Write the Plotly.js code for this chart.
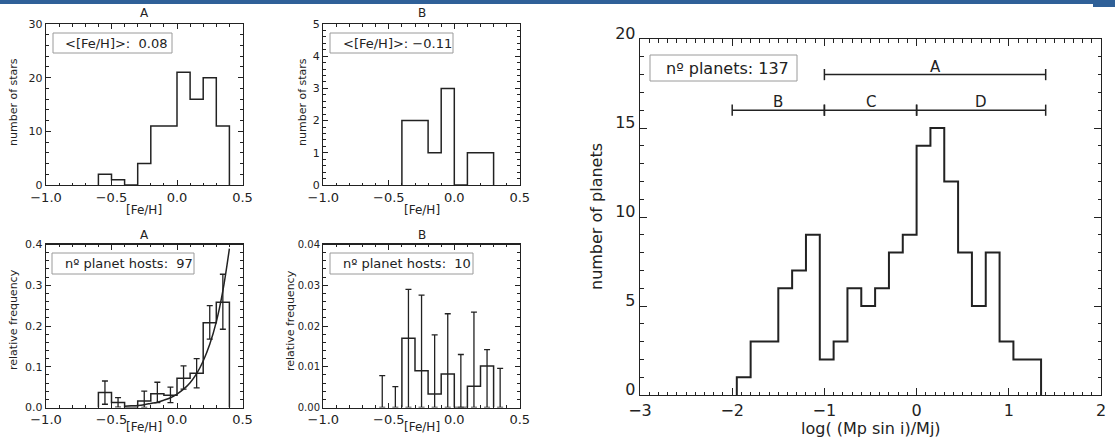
<!DOCTYPE html>
<html>
<head>
<meta charset="utf-8">
<script src="https://cdn.plot.ly/plotly-3.0.1.min.js"></script>
<style>html,body{margin:0;padding:0;background:#fff;}#chart{width:1115px;height:439px;}</style>
</head>
<body>
<div id="chart"></div>
<script>
// ---------------- data ----------------
// top row: [Fe/H] histograms (number of stars)
const fehEdgesA = [-0.6, -0.5, -0.4, -0.3, -0.2, -0.1, 0.0, 0.1, 0.2, 0.3, 0.4];
const starsA    = [2, 1, 0, 4, 11, 11, 21, 16, 20, 11];
const fehEdgesB = [-0.4, -0.3, -0.2, -0.1, 0.0, 0.1, 0.2, 0.3];
const starsB    = [2, 2, 1, 3, 0, 1, 1];
const meanFehA = "0.08";
const meanFehB = "\u22120.11";

// bottom row: relative frequency of planet hosts
const relFreqA     = [0.037, 0.012, 0, 0.016, 0.034, 0.030, 0.072, 0.084, 0.208, 0.258];
const errCentersA  = [-0.55, -0.45, -0.25, -0.15, -0.05, 0.05, 0.15, 0.25, 0.35];
const errBaseA     = [0.037, 0.012, 0.016, 0.034, 0.030, 0.072, 0.084, 0.208, 0.258];
const errHighA     = [0.065, 0.024, 0.040, 0.062, 0.050, 0.102, 0.120, 0.250, 0.327];
const errLowA      = [0.008, 0.001, 0.000, 0.012, 0.012, 0.045, 0.048, 0.168, 0.192];
const fitFeh       = [-0.40, -0.35, -0.30, -0.25, -0.20, -0.15, -0.10, -0.05, 0.00, 0.05, 0.10, 0.15, 0.20, 0.25, 0.30, 0.35, 0.40];
const fitFreq      = [0.003, 0.004, 0.005, 0.007, 0.010, 0.013, 0.018, 0.024, 0.033, 0.045, 0.061, 0.083, 0.114, 0.155, 0.210, 0.286, 0.390];
const hostsA = 97;

const relFreqB     = [0.017, 0.009, 0.0033, 0.0082, 0, 0.0052, 0.0102];
const errCentersB  = [-0.55, -0.45, -0.35, -0.25, -0.15, -0.05, 0.05, 0.15, 0.25, 0.35];
const errBaseB     = [0, 0, 0.017, 0.009, 0.0033, 0.0082, 0, 0.0052, 0.0102, 0];
const errHighB     = [0.0078, 0.0051, 0.029, 0.0276, 0.0178, 0.023, 0.013, 0.0234, 0.0142, 0.0096];
const hostsB = 10;

// right panel: planet mass histogram
const massEdges = [-1.95, -1.80, -1.65, -1.50, -1.35, -1.20, -1.05, -0.90, -0.75, -0.60, -0.45, -0.30, -0.15, 0.00, 0.15, 0.30, 0.45, 0.60, 0.75, 0.90, 1.05, 1.20, 1.35];
const planetCounts = [1, 3, 3, 6, 7, 9, 2, 3, 6, 5, 6, 8, 9, 14, 15, 12, 8, 5, 8, 3, 2, 2];
const nPlanets = 137;
const bracketLabels = ["A", "B", "C", "D"];
const bracketFrom   = [-1, -2, -1, 0];
const bracketTo     = [1.4, -1, 0, 1.4];
const bracketLevel  = [18, 16, 16, 16];

// ---------------- helpers ----------------
const W = 1115, H = 439;
const FONT = "DejaVu Sans";
const INK = "#222";
const px = x => x / W;
const py = y => 1 - y / H;

function stepXY(edges, vals) {
  const x = [edges[0]], y = [0];
  for (let i = 0; i < vals.length; i++) { x.push(edges[i]); y.push(vals[i]); }
  x.push(edges[edges.length - 1]); y.push(0);
  return {x, y};
}

const traces = [];
function histTrace(edges, vals, xa, ya, width) {
  const s = stepXY(edges, vals);
  traces.push({type: "scatter", mode: "lines", x: s.x, y: s.y, xaxis: xa, yaxis: ya,
    line: {shape: "hv", color: INK, width: width}, hoverinfo: "skip", showlegend: false});
}

histTrace(fehEdgesA, starsA, "x", "y", 1.5);
histTrace(fehEdgesB, starsB, "x2", "y2", 1.5);
histTrace(fehEdgesA, relFreqA, "x3", "y3", 1.5);
histTrace(fehEdgesB, relFreqB, "x4", "y4", 1.5);
histTrace(massEdges, planetCounts, "x5", "y5", 2);

// error bars A
traces.push({type: "scatter", mode: "markers", x: errCentersA, y: errBaseA, xaxis: "x3", yaxis: "y3",
  marker: {size: 1, opacity: 0}, showlegend: false, hoverinfo: "skip",
  error_y: {type: "data", symmetric: false,
    array: errHighA.map((h, i) => h - errBaseA[i]),
    arrayminus: errLowA.map((l, i) => errBaseA[i] - l),
    color: INK, thickness: 1.3, width: 3}});
// fit curve
traces.push({type: "scatter", mode: "lines", x: fitFeh, y: fitFreq, xaxis: "x3", yaxis: "y3",
  line: {shape: "spline", color: INK, width: 1.5}, showlegend: false, hoverinfo: "skip"});
// error bars B
traces.push({type: "scatter", mode: "markers", x: errCentersB, y: errBaseB, xaxis: "x4", yaxis: "y4",
  marker: {size: 1, opacity: 0}, showlegend: false, hoverinfo: "skip",
  error_y: {type: "data", symmetric: false,
    array: errHighB.map((h, i) => h - errBaseB[i]),
    arrayminus: errBaseB.slice(),
    color: INK, thickness: 1.3, width: 3}});

// brackets in right panel
const annotations = [];
for (let i = 0; i < bracketLabels.length; i++) {
  traces.push({type: "scatter", mode: "lines+markers", x: [bracketFrom[i], bracketTo[i]],
    y: [bracketLevel[i], bracketLevel[i]], xaxis: "x5", yaxis: "y5",
    line: {color: INK, width: 1.5},
    marker: {symbol: "line-ns-open", size: 8, line: {color: INK, width: 1.5}},
    showlegend: false, hoverinfo: "skip", cliponaxis: false});
  annotations.push({xref: "x5", yref: "y5", x: (bracketFrom[i] + bracketTo[i]) / 2, y: bracketLevel[i],
    text: bracketLabels[i], showarrow: false, yanchor: "bottom", yshift: -3,
    font: {family: FONT, size: 15, color: INK}});
}

// ---------------- axes ----------------
function axis(extra) {
  return Object.assign({
    showline: true, linecolor: INK, linewidth: 1.3, mirror: "allticks",
    ticks: "inside", tickcolor: INK, tickwidth: 1, showgrid: false, zeroline: false,
    fixedrange: true, tickfont: {family: FONT, size: 13, color: INK}
  }, extra);
}
const xL = [px(46), px(242.5)], xR = [px(323.3), px(519.8)];
const yT = [py(185), py(24)], yB = [py(407.5), py(244.5)];
function smallX(dom, anchor) {
  return axis({domain: dom, anchor: anchor, range: [-1, 0.5], dtick: 0.5, tick0: 0, tickformat: ".1f",
    ticklen: 5, minor: {dtick: 0.1, ticklen: 2.5, ticks: "inside", tickcolor: INK},
    tickfont: {family: FONT, size: 13, color: INK}});
}
function smallY(dom, anchor, range, dtick, mdt, fmt, fs) {
  return axis({domain: dom, anchor: anchor, range: range, dtick: dtick, tick0: 0, tickformat: fmt,
    ticklen: 5, minor: {dtick: mdt, ticklen: 2.5, ticks: "inside", tickcolor: INK},
    tickfont: {family: FONT, size: fs, color: INK}});
}

// ---------------- text ----------------
function txt(x, y, s, size, opts) {
  annotations.push(Object.assign({xref: "paper", yref: "paper", x: px(x), y: py(y), text: s,
    showarrow: false, xanchor: "center", yanchor: "middle", font: {family: FONT, size: size, color: INK}}, opts || {}));
}
txt(144.3, 13, "A", 12); txt(421.5, 13, "B", 12);
txt(144.3, 235, "A", 12); txt(421.5, 235, "B", 12);
txt(144.3, 210, "[Fe/H]", 12); txt(421.5, 210, "[Fe/H]", 12);
txt(144.3, 427, "[Fe/H]", 12); txt(421.5, 427, "[Fe/H]", 12);
txt(13, 102, "number of stars", 11, {textangle: -90});
txt(302, 102, "number of stars", 11, {textangle: -90});
txt(13, 320, "relative frequency", 11, {textangle: -90});
txt(290, 320, "relative frequency", 11, {textangle: -90});
txt(596, 217, "number of planets", 16, {textangle: -90});
txt(870.5, 428, "log( (Mp sin i)/Mj)", 16);

// boxed labels
const shapes = [
  {type: "rect", xref: "paper", yref: "paper", x0: 0, x1: 1, y0: py(4), y1: 1, fillcolor: "#2f6098", line: {width: 0}, layer: "above"},
  {type: "rect", xref: "paper", yref: "paper", x0: px(1093), x1: 1, y0: py(7), y1: 1, fillcolor: "#2f6098", line: {width: 0}, layer: "above"}
];
function box(x0, x1, y0, y1, tx, s, size) {
  shapes.push({type: "rect", xref: "paper", yref: "paper", x0: px(x0), x1: px(x1), y0: py(y1), y1: py(y0),
    line: {color: "#9a9a9a", width: 1}, fillcolor: "rgba(0,0,0,0)"});
  txt(tx, (y0 + y1) / 2, s, size, {xanchor: "left"});
}
box(53, 172, 33, 53, 63, "&lt;[Fe/H]&gt;:  " + meanFehA, 13);
box(330, 453, 33, 53, 341, "&lt;[Fe/H]&gt;: " + meanFehB, 13);
box(52, 194, 253, 274, 63, "n\u00ba planet hosts:  " + hostsA, 13);
box(330, 473, 253, 274, 341, "n\u00ba planet hosts:  " + hostsB, 13);
box(650, 797, 55, 81, 664, "n\u00ba planets: " + nPlanets, 16);

const layout = {
  width: W, height: H, margin: {l: 0, r: 0, t: 0, b: 0},
  paper_bgcolor: "#fff", plot_bgcolor: "#fff", showlegend: false,
  font: {family: FONT, color: INK},
  xaxis: smallX(xL, "y"), yaxis: smallY(yT, "x", [0, 30], 10, 2, "d", 11),
  xaxis2: smallX(xR, "y2"), yaxis2: smallY(yT, "x2", [0, 5], 1, 0.2, "d", 11),
  xaxis3: smallX(xL, "y3"), yaxis3: smallY(yB, "x3", [0, 0.4], 0.1, 0.02, ".1f", 11),
  xaxis4: smallX(xR, "y4"), yaxis4: smallY(yB, "x4", [0, 0.04], 0.01, 0.002, ".2f", 10),
  xaxis5: axis({domain: [px(640), px(1101)], anchor: "y5", range: [-3, 2], dtick: 1, tick0: 0, ticklen: 7,
    minor: {dtick: 0.1, ticklen: 3.5, ticks: "inside", tickcolor: INK},
    tickfont: {family: FONT, size: 16, color: INK}}),
  yaxis5: axis({domain: [py(395), py(39)], anchor: "x5", range: [0, 20], dtick: 5, tick0: 0, ticklen: 7,
    minor: {dtick: 1, ticklen: 3.5, ticks: "inside", tickcolor: INK},
    ticklabelshift: -6,
    tickfont: {family: FONT, size: 16, color: INK}}),
  annotations: annotations, shapes: shapes
};

Plotly.newPlot("chart", traces, layout, {displayModeBar: false, staticPlot: true});
</script>
</body>
</html>
